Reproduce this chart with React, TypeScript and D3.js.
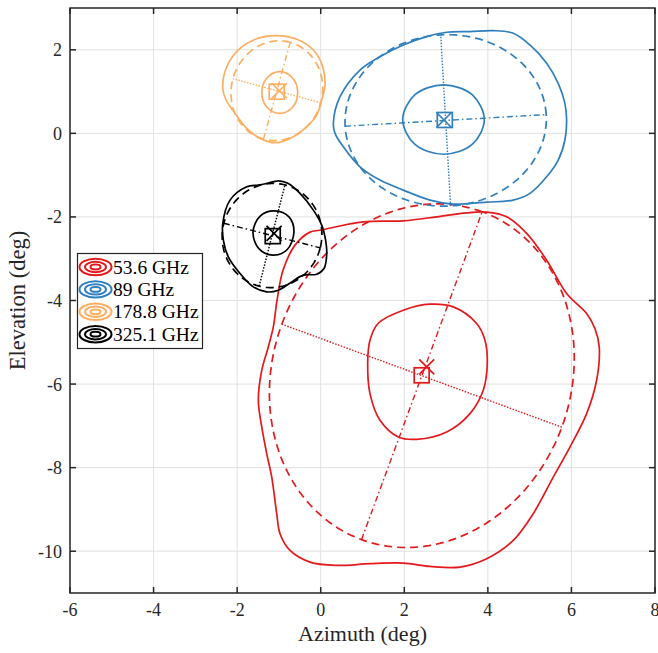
import React from "react";
import * as d3 from "d3";

type Pt = [number, number];

// Band names and colours
const bands = ["53.6 GHz", "89 GHz", "178.8 GHz", "325.1 GHz"];
const bandColors = ["#e3191c", "#2f7fbd", "#fdae61", "#000000"];

// Axis ticks
const xTicks = [-6, -4, -2, 0, 2, 4, 6, 8];
const yTicks = [-10, -8, -6, -4, -2, 0, 2];

// Outer (low-level) beam contours, [azimuth, elevation] in degrees
const outer536: Pt[] = [
  [-0.017, -2.318], [1.019, -2.117], [1.976, -2.093], [2.775, -1.998], [3.493, -1.902],
  [3.971, -1.885], [4.45, -1.998], [4.928, -2.395], [5.407, -3.035], [5.885, -3.832],
  [6.364, -4.311], [6.562, -4.671], [6.665, -5.111], [6.603, -5.909], [6.364, -6.707],
  [5.964, -7.507], [5.565, -8.225], [5.086, -9.102], [4.608, -9.741], [3.971, -10.18],
  [3.333, -10.381], [2.615, -10.364], [1.976, -10.285], [1.179, -10.299], [0.383, -10.34],
  [-0.256, -10.261], [-0.734, -9.981], [-0.974, -9.581], [-1.053, -9.102], [-1.172, -8.225],
  [-1.292, -7.665], [-1.411, -7.027], [-1.493, -6.388], [-1.411, -5.669], [-1.254, -5.111],
  [-1.134, -4.632], [-1.045, -3.993], [-0.902, -3.274], [-0.615, -2.675], [-0.256, -2.364],
];
const outer89: Pt[] = [
  [0.302, 0.24], [0.462, 0.877], [0.94, 1.516], [1.419, 1.835], [1.976, 2.115],
  [2.536, 2.314], [3.014, 2.419], [3.572, 2.435], [4.129, 2.458], [4.608, 2.395],
  [5.007, 2.115], [5.407, 1.677], [5.684, 1.198], [5.844, 0.719], [5.885, 0.319],
  [5.844, -0.16], [5.684, -0.64], [5.407, -1.039], [5.007, -1.437], [4.608, -1.598],
  [3.971, -1.646], [3.172, -1.693], [2.615, -1.598], [1.976, -1.358], [1.419, -1.119],
  [0.94, -0.8], [0.541, -0.32], [0.342, 0.0],
];
const outer1788: Pt[] = [
  [-2.344, 1.078], [-2.249, 1.595], [-1.931, 2.036], [-1.452, 2.29], [-1.053, 2.338],
  [-0.574, 2.251], [-0.177, 1.995], [0.048, 1.595], [0.103, 1.157], [0.024, 0.798],
  [-0.096, 0.438], [-0.297, 0.199], [-0.656, -0.081], [-1.069, -0.225], [-1.452, -0.12],
  [-1.77, 0.12], [-2.05, 0.479], [-2.266, 0.798],
];
const outer3251: Pt[] = [
  [-2.344, -2.156], [-2.17, -1.598], [-1.77, -1.279], [-1.493, -1.238], [-1.292, -1.198],
  [-1.014, -1.135], [-0.775, -1.198], [-0.495, -1.437], [-0.177, -1.837], [0.024, -2.196],
  [0.103, -2.477], [0.144, -2.874], [0.079, -3.234], [-0.096, -3.37], [-0.416, -3.394],
  [-0.694, -3.555], [-1.014, -3.753], [-1.292, -3.794], [-1.612, -3.674], [-1.931, -3.353],
  [-2.211, -2.956], [-2.33, -2.556],
];

// Inner (high-level) beam contours
const inner536: Pt[] = [
  [1.124, -5.509], [1.179, -4.951], [1.378, -4.544], [1.976, -4.232], [2.615, -4.089],
  [3.172, -4.153], [3.732, -4.551], [3.931, -4.951], [3.986, -5.509], [3.89, -6.148],
  [3.572, -6.707], [3.014, -7.147], [2.297, -7.322], [1.856, -7.267], [1.419, -6.867],
  [1.179, -6.228],
];
const inner89: Pt[] = [
  [3.915, 0.33], [3.63, 0.92], [2.94, 1.16], [2.25, 0.92], [1.962, 0.33],
  [2.25, -0.26], [2.94, -0.5], [3.63, -0.26],
];
const inner1788: Pt[] = [
  [-0.55, 0.98], [-0.68, 1.33], [-0.98, 1.475], [-1.28, 1.33], [-1.41, 0.98],
  [-1.28, 0.62], [-0.98, 0.48], [-0.68, 0.62],
];
const inner3251: Pt[] = [
  [-0.64, -2.35], [-0.76, -2.0], [-1.1, -1.855], [-1.45, -1.98], [-1.62, -2.36],
  [-1.48, -2.76], [-1.14, -2.915], [-0.8, -2.78],
];

const outerContours = [outer536, outer89, outer1788, outer3251];
const innerContours = [inner536, inner89, inner1788, inner3251];

// Fitted ellipses: centre, semi-axis along tilt, semi-axis across tilt, tilt (deg)
const fitAz = [2.42, 2.99, -1.05, -1.165];
const fitEl = [-5.8, 0.31, 1.02, -2.445];
const fitSemiA = [4.18, 2.41, 1.2, 1.19];
const fitSemiB = [3.57, 2.05, 1.09, 1.25];
const fitTilt = [69.8, 3.3, 74.6, -14.3];

// Beam peak (square) and centroid (cross)
const peakAz = [2.416, 2.97, -1.053, -1.148];
const peakEl = [-5.79, 0.32, 0.997, -2.46];
const centroidAz = [2.536, 2.95, -0.99, -1.117];
const centroidEl = [-5.59, 0.32, 1.02, -2.395];

const W = 658;
const H = 653;
const X0 = 70, X1 = 655, Y0 = 8, Y1 = 593;
const FONT = "'Liberation Serif', 'Times New Roman', serif";

export default function App() {
  const x = d3.scaleLinear().domain([-6, 8]).range([X0, X1]);
  const y = d3.scaleLinear().domain([-11, 3]).range([Y1, Y0]);

  const closed = d3
    .line<Pt>()
    .x((d) => x(d[0]))
    .y((d) => y(d[1]))
    .curve(d3.curveCatmullRomClosed.alpha(0.5));
  const seg = d3
    .line<Pt>()
    .x((d) => x(d[0]))
    .y((d) => y(d[1]));

  const ellipsePts = (i: number): Pt[] => {
    const th = (fitTilt[i] * Math.PI) / 180;
    const c = Math.cos(th), s = Math.sin(th);
    return d3.range(0, 181).map((k) => {
      const t = (k / 180) * 2 * Math.PI;
      const u = fitSemiA[i] * Math.cos(t);
      const v = fitSemiB[i] * Math.sin(t);
      return [fitAz[i] + u * c - v * s, fitEl[i] + u * s + v * c] as Pt;
    });
  };
  const axisA = (i: number): Pt[] => {
    const th = (fitTilt[i] * Math.PI) / 180;
    const dx = fitSemiA[i] * Math.cos(th), dy = fitSemiA[i] * Math.sin(th);
    return [[fitAz[i] - dx, fitEl[i] - dy], [fitAz[i] + dx, fitEl[i] + dy]];
  };
  const axisB = (i: number): Pt[] => {
    const th = (fitTilt[i] * Math.PI) / 180;
    const dx = -fitSemiB[i] * Math.sin(th), dy = fitSemiB[i] * Math.cos(th);
    return [[fitAz[i] - dx, fitEl[i] - dy], [fitAz[i] + dx, fitEl[i] + dy]];
  };

  const gridColor = "#e0e0e0";
  const axisColor = "#262626";
  const tickLen = 6;
  const lw = 1.7;

  return (
    <svg
      width={W}
      height={H}
      style={{ position: "absolute", left: 0, top: 0, display: "block", background: "#fff" }}
    >
      <rect x={0} y={0} width={W} height={H} fill="#fff" />
      {/* grid */}
      <g>
        {xTicks.map((t) => (
          <line key={"gx" + t} x1={x(t)} x2={x(t)} y1={Y0} y2={Y1} stroke={gridColor} strokeWidth={1} />
        ))}
        {yTicks.map((t) => (
          <line key={"gy" + t} x1={X0} x2={X1} y1={y(t)} y2={y(t)} stroke={gridColor} strokeWidth={1} />
        ))}
      </g>

      {/* beams */}
      {bands.map((b, i) => {
        const col = bandColors[i];
        const px = x(peakAz[i]), py = y(peakEl[i]);
        const cx = x(centroidAz[i]), cy = y(centroidEl[i]);
        const sq = 15, cr = 7.5;
        return (
          <g key={b} fill="none" stroke={col}>
            <path d={closed(outerContours[i]) || ""} strokeWidth={lw} />
            <path d={closed(innerContours[i]) || ""} strokeWidth={lw} />
            <path d={seg(ellipsePts(i)) || ""} strokeWidth={lw} strokeDasharray="8,5" />
            <path d={seg(axisA(i)) || ""} strokeWidth={1.4} strokeDasharray="6,3,1.5,3" />
            <path d={seg(axisB(i)) || ""} strokeWidth={1.4} strokeDasharray="1.5,1.5" />
            <rect x={px - sq / 2} y={py - sq / 2} width={sq} height={sq} strokeWidth={lw} />
            <path
              d={`M${cx - cr},${cy - cr}L${cx + cr},${cy + cr}M${cx - cr},${cy + cr}L${cx + cr},${cy - cr}`}
              strokeWidth={lw}
            />
          </g>
        );
      })}

      {/* axes box and ticks */}
      <g stroke={axisColor} strokeWidth={1.5} fill="none">
        <rect x={X0} y={Y0} width={X1 - X0} height={Y1 - Y0} />
        {xTicks.map((t) => (
          <g key={"tx" + t}>
            <line x1={x(t)} x2={x(t)} y1={Y1} y2={Y1 - tickLen} />
            <line x1={x(t)} x2={x(t)} y1={Y0} y2={Y0 + tickLen} />
          </g>
        ))}
        {yTicks.map((t) => (
          <g key={"ty" + t}>
            <line x1={X0} x2={X0 + tickLen} y1={y(t)} y2={y(t)} />
            <line x1={X1} x2={X1 - tickLen} y1={y(t)} y2={y(t)} />
          </g>
        ))}
      </g>

      {/* tick labels */}
      <g fontFamily={FONT} fontSize={18} fill="#262626">
        {xTicks.map((t) => (
          <text key={"lx" + t} x={x(t)} y={616} textAnchor="middle">
            {String(t)}
          </text>
        ))}
        {yTicks.map((t) => (
          <text key={"ly" + t} x={62} y={y(t) + 6.5} textAnchor="end">
            {String(t)}
          </text>
        ))}
      </g>

      {/* axis labels */}
      <text x={(X0 + X1) / 2} y={641} textAnchor="middle" fontFamily={FONT} fontSize={22} fill="#262626">
        Azimuth (deg)
      </text>
      <text
        transform={`translate(25,${(Y0 + Y1) / 2}) rotate(-90)`}
        textAnchor="middle"
        fontFamily={FONT}
        fontSize={22.5}
        fill="#262626"
      >
        Elevation (deg)
      </text>

      {/* legend */}
      <g>
        <rect x={77.5} y={253.5} width={125} height={95} fill="#fff" stroke="#262626" strokeWidth={1.2} />
        {bands.map((b, i) => {
          const cyL = 267 + i * 22.4;
          return (
            <g key={"lg" + b}>
              <g fill="none" stroke={bandColors[i]} strokeWidth={2}>
                <ellipse cx={95.5} cy={cyL} rx={16} ry={8.2} />
                <ellipse cx={95.5} cy={cyL} rx={10.5} ry={5.2} />
                <ellipse cx={95.5} cy={cyL} rx={5} ry={2.4} />
              </g>
              <text x={113} y={cyL + 6.5} fontFamily={FONT} fontSize={19.5} fill="#000">
                {b}
              </text>
            </g>
          );
        })}
      </g>
    </svg>
  );
}
